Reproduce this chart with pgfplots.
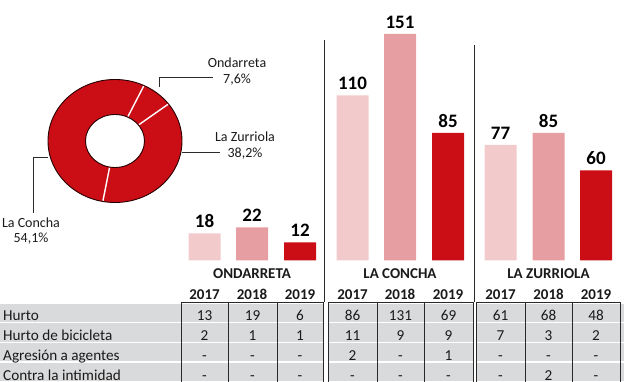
\documentclass[border=0pt]{standalone}
\usepackage{pgfplots}
\pgfplotsset{compat=1.18}
\usepackage{fontspec}
\setmainfont{Carlito}
\definecolor{cA}{HTML}{F3CACC}
\definecolor{cB}{HTML}{E79EA2}
\definecolor{cC}{HTML}{CB0D16}
\definecolor{tgray}{HTML}{D9DADC}
\definecolor{txt}{HTML}{1A1A1A}
\definecolor{ln}{HTML}{2A2A2A}
\newcommand\tabfont{\fontsize{15.2}{17}\selectfont}
\newcommand\numfont{\fontsize{19}{21}\selectfont\bfseries}
\newcommand\hdfont{\fontsize{15}{17}\selectfont\bfseries}
\newcommand\lblfont{\fontsize{14}{16}\selectfont}
\begin{document}
\begin{tikzpicture}[x=1pt,y=1pt]
\useasboundingbox (0,0) rectangle (624,-382);
% ---- table background
\foreach \i in {0,1,2,3} {\fill[tgray] (0,{-303.5-19.8*\i}) rectangle (624,{-321.8-19.8*\i});}
\fill[white] (323,-302) rectangle (328,-382);
\fill[white] (473,-302) rectangle (476,-382);
% ---- table grid
\foreach \a/\b in {181/323,328/473,476/620} {\draw[ln, line width=0.8] (\a,-382) -- (\a,-302) -- (\b,-302) -- (\b,-382);}
\foreach \x in {228,277,377,424,525,572} {\draw[ln, line width=0.8] (\x,-302) -- (\x,-382);}
% long separators
\draw[ln, line width=0.9] (324.5,-40) -- (324.5,-302);
\draw[ln, line width=0.9] (474.5,-45) -- (474.5,-302);
% ---- table text
\def\xs{{204.5,252.5,300,352.5,400.5,448.5,500.5,548.5,596}}
\foreach \lab/\vals [count=\r from 0] in {Hurto/{13,19,6,86,131,69,61,68,48},Hurto de bicicleta/{2,1,1,11,9,9,7,3,2},Agresión a agentes/{-,-,-,2,-,1,-,-,-},Contra la intimidad/{-,-,-,-,-,-,-,2,-}} {
  \node[anchor=base west, inner sep=0pt, font=\tabfont, text=txt] at (3,{-320.8-19.8*\r}) {\lab};
  \foreach \v [count=\k from 0] in \vals {
    \pgfmathsetmacro\xx{\xs[\k]}
    \node[anchor=base, inner sep=0pt, font=\tabfont, text=txt] at (\xx,{-320.8-19.8*\r}) {\v};
  }
}
% ---- group labels and years
\node[anchor=base, inner sep=0pt, font=\hdfont, text=txt] at (252,-278) {ONDARRETA};
\node[anchor=base, inner sep=0pt, font=\hdfont, text=txt] at (400,-278) {LA CONCHA};
\node[anchor=base, inner sep=0pt, font=\hdfont, text=txt] at (548.5,-278) {LA ZURRIOLA};
\foreach \x/\y in {204.5/2017,252/2018,300/2019,352.5/2017,400/2018,448/2019,500.5/2017,548.5/2018,596/2019}
  {\node[anchor=base, inner sep=0pt, font=\hdfont, text=txt] at (\x,-299) {\y};}
% ---- bars
\begin{axis}[at={(0pt,-260.5pt)}, anchor=south west, x=1pt, y=1.5pt,
  xmin=0, xmax=624, ymin=0, ymax=170, hide axis, clip=false,
  ybar, bar width=32pt,
  /pgf/number format/assume math mode=true,
  nodes near coords,
  nodes near coords style={font=\numfont, text=black, anchor=south, inner sep=0pt, yshift=5.5pt}]
\addplot[fill=cA, draw=none, bar shift=0pt] coordinates {(204.5,18) (352.5,110) (500.5,77)};
\addplot[fill=cB, draw=none, bar shift=0pt] coordinates {(252,22) (400,151) (548.5,85)};
\addplot[fill=cC, draw=none, bar shift=0pt] coordinates {(300,12) (448,85) (596,60)};
\end{axis}
% ---- donut (shares: Ondarreta 7.6, La Zurriola 38.2, La Concha 54.1)
\begin{axis}[at={(0pt,-382pt)}, anchor=south west, x=1pt, y=1pt,
  xmin=0, xmax=624, ymin=-382, ymax=0, hide axis, clip=false]
\fill[cC, even odd rule] (axis cs:115,-141) ellipse [x radius=67, y radius=61.5]
  (axis cs:115,-141) ellipse [x radius=29.5, y radius=26.5];
\draw[black!85!red, line width=0.9] (axis cs:115,-141) ellipse [x radius=67, y radius=61.5];
\draw[black!85!red, line width=0.9] (axis cs:115,-141) ellipse [x radius=29.5, y radius=26.5];
% boundaries: start 64.4 deg, then -7.6%, -38.2%
\draw[white, line width=1.4] (axis cs:{115+30.2*cos(64.4)},{-141+27.3*sin(64.4)}) -- (axis cs:{115+66.3*cos(64.4)},{-141+60.8*sin(64.4)});
\draw[white, line width=1.4] (axis cs:{115+30.2*cos(37.04)},{-141+27.3*sin(37.04)}) -- (axis cs:{115+66.3*cos(37.04)},{-141+60.8*sin(37.04)});
\draw[white, line width=1.4] (axis cs:{115+30.2*cos(-100.48)},{-141+27.3*sin(-100.48)}) -- (axis cs:{115+66.3*cos(-100.48)},{-141+60.8*sin(-100.48)});
\end{axis}
% ---- donut labels and leaders
\draw[ln, line width=0.8] (159,-87) -- (159,-77) -- (213,-77);
\draw[ln, line width=0.8] (182,-152) -- (220,-152);
\draw[ln, line width=0.8] (48,-157) -- (33,-157) -- (33,-213);
\node[anchor=base, inner sep=0pt, font=\lblfont, text=txt] at (237,-68) {Ondarreta};
\node[anchor=base, inner sep=0pt, font=\lblfont, text=txt] at (237,-84) {7,6\%};
\node[anchor=base, inner sep=0pt, font=\lblfont, text=txt] at (245,-142) {La Zurriola};
\node[anchor=base, inner sep=0pt, font=\lblfont, text=txt] at (245,-158) {38,2\%};
\node[anchor=base, inner sep=0pt, font=\lblfont, text=txt] at (31,-228) {La Concha};
\node[anchor=base, inner sep=0pt, font=\lblfont, text=txt] at (31,-243) {54,1\%};
\end{tikzpicture}
\end{document}
